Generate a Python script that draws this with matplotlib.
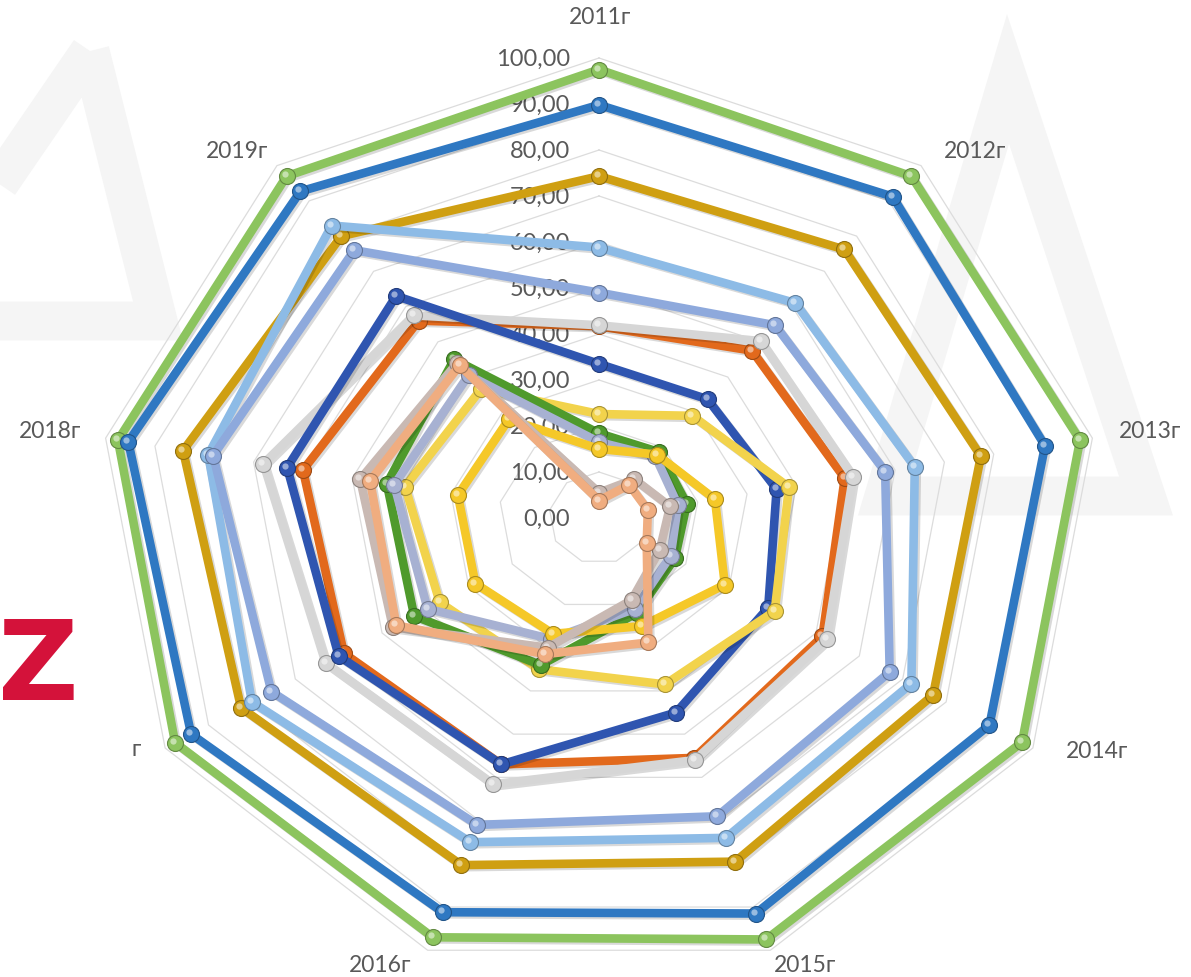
import numpy as np
import matplotlib
matplotlib.use("Agg")
import matplotlib.pyplot as plt
from matplotlib import patheffects as pe
from matplotlib.transforms import offset_copy
from matplotlib.patches import Rectangle, Polygon
import matplotlib.colors as mcolors

# ---------------- data ----------------
categories = ['2011г', '2012г', '2013г', '2014г', '2015г', '2016г', '2017г', '2018г', '2019г']
value_ticks = [0, 10, 20, 30, 40, 50, 60, 70, 80, 90, 100]
value_tick_labels = ['0,00', '10,00', '20,00', '30,00', '40,00', '50,00',
                     '60,00', '70,00', '80,00', '90,00', '100,00']

s_green      = [97.5, 97.0, 97.5, 97.5, 97.5, 97.0, 97.7, 97.5, 97.0]
s_blue       = [89.8, 91.2, 90.4, 90.0, 91.5, 91.2, 94.0, 95.4, 92.7]
s_gold       = [74.3, 76.2, 77.4, 77.0, 79.5, 80.3, 82.5, 84.3, 80.0]
s_lightblue  = [58.8, 61.0, 64.0, 72.0, 74.0, 75.0, 80.0, 79.2, 83.0]
s_periwinkle = [49.0, 54.7, 58.0, 67.0, 69.0, 71.0, 75.5, 78.2, 76.0]
s_orange     = [41.7, 47.5, 49.8, 51.5, 55.5, 57.0, 58.8, 60.0, 56.0]
s_silver     = [41.9, 50.2, 51.5, 52.5, 56.0, 61.6, 63.0, 68.0, 57.5]
s_darkblue   = [33.5, 33.7, 36.0, 39.0, 45.0, 57.0, 60.0, 63.2, 63.0]
s_yellow_a   = [22.6, 29.0, 38.5, 40.5, 38.5, 35.0, 36.7, 39.3, 36.6]
s_darkgreen  = [18.4, 18.7, 17.8, 17.5, 22.0, 34.0, 42.6, 43.0, 45.0]
s_lavender   = [16.5, 17.5, 16.0, 16.5, 21.0, 28.0, 39.5, 41.5, 40.5]
s_yellow_b   = [15.0, 18.0, 23.5, 29.0, 25.0, 26.8, 28.5, 28.6, 28.0]
s_gray       = [5.5, 11.0, 14.4, 14.0, 19.0, 30.0, 47.5, 48.4, 44.0]
s_peach      = [3.8, 9.4, 9.9, 11.0, 28.8, 31.5, 46.7, 46.4, 43.3]

series = [
    (s_green,      '#8cc45e'),
    (s_blue,       '#2f78c2'),
    (s_gold,       '#cf9f12'),
    (s_lightblue,  '#8dbbe6'),
    (s_periwinkle, '#8ea9dc'),
    (s_orange,     '#e2691c'),
    (s_silver,     '#d6d6d6'),
    (s_darkblue,   '#2f55b0'),
    (s_yellow_a,   '#f2d34c'),
    (s_darkgreen,  '#4f9a2c'),
    (s_lavender,   '#a7b1d2'),
    (s_yellow_b,   '#f5c828'),
    (s_gray,       '#c9b9b3'),
    (s_peach,      '#f0ad80'),
]

# ---------------- figure ----------------
W, H = 1191, 978
fig = plt.figure(figsize=(W / 100, H / 100), dpi=100)
fig.patch.set_facecolor('white')

FONT = ['Lato', 'Open Sans', 'DejaVu Sans']
TXT = '#595959'

def px(x, y):
    return (x / W, 1 - y / H)

# faint watermark shapes
for pts in ([(1008, 80), (884, 497), (1146, 497)],
            [(90, 52), (-95, 322), (158, 322)]):
    fig.patches.append(Polygon([px(*p) for p in pts], closed=True, fill=False,
                               edgecolor='#f5f5f5', linewidth=28, joinstyle='miter',
                               transform=fig.transFigure, zorder=-2))

cx, cy = 599, 519
rx, ry = 501, 460
ax = fig.add_axes([(cx - rx) / W, 1 - (cy + ry) / H, 2 * rx / W, 2 * ry / H],
                  projection='polar')
ax.set_aspect('auto')
ax.set_theta_offset(np.pi / 2)
ax.set_theta_direction(-1)
ax.set_ylim(0, 100)
ax.grid(False)
ax.set_xticks([])
ax.set_yticks([])
ax.spines['polar'].set_visible(False)
ax.patch.set_alpha(0)

n = len(categories)
theta = np.arange(n) * 2 * np.pi / n
theta_c = np.append(theta, theta[0])

# polygon gridlines
for lvl in value_ticks[1:]:
    ax.plot(theta_c, [lvl] * (n + 1), color='#dcdcdc', lw=0.9, zorder=1, clip_on=False)

# value labels on the 2011 axis
lab_tr = offset_copy(ax.transData, fig=fig, x=-29, y=0, units='dots')
for v, t in zip(value_ticks, value_tick_labels):
    ax.text(0, v, t, transform=lab_tr, ha='right', va='center',
            fontsize=17, color=TXT, family=FONT, zorder=1.5)

# series
hl_tr = offset_copy(ax.transData, fig=fig, x=-2, y=2, units='dots')
for i, (vals, col) in enumerate(series):
    v = np.append(vals, vals[0])
    rgb = np.array(mcolors.to_rgb(col))
    dark = tuple(rgb * 0.7)
    z = 3 + i * 0.1
    ax.plot(theta_c, v, color=col, lw=6.2, solid_joinstyle='round', zorder=z,
            clip_on=False,
            path_effects=[pe.SimpleLineShadow(offset=(1.5, -1.5), shadow_color='k', alpha=0.15),
                          pe.Normal()])
    ax.plot(theta, vals, 'o', ms=11.5, mfc=col, mec=dark, mew=0.8, zorder=z + 0.01,
            clip_on=False)
    ax.plot(theta, vals, 'o', ms=4.5, mfc='white', mec='none', alpha=0.5, zorder=z + 0.02,
            transform=hl_tr, clip_on=False)

# category labels (figure pixel centres)
cat_pos = [(600, 18), (975, 152), (1150, 432), (1097, 752), (805, 966),
           (380, 966), (111, 750), (50, 432), (237, 152)]
for lab, (x, y) in zip(categories, cat_pos):
    fig.text(x / W, 1 - y / H, lab, ha='center', va='center', fontsize=16.5,
             color=TXT, family=FONT, zorder=5)

# watermark pieces in front
fig.patches.append(Rectangle(px(68, 765), (133 - 68) / W, 30 / H, transform=fig.transFigure,
                             facecolor='white', edgecolor='none', zorder=6))
fig.text(38 / W, 1 - 700 / H, 'Z', ha='center', va='baseline', fontsize=80,
         fontweight='bold', color='#d4123a', family='DejaVu Sans', zorder=7)

fig.savefig('out.png', dpi=100)
